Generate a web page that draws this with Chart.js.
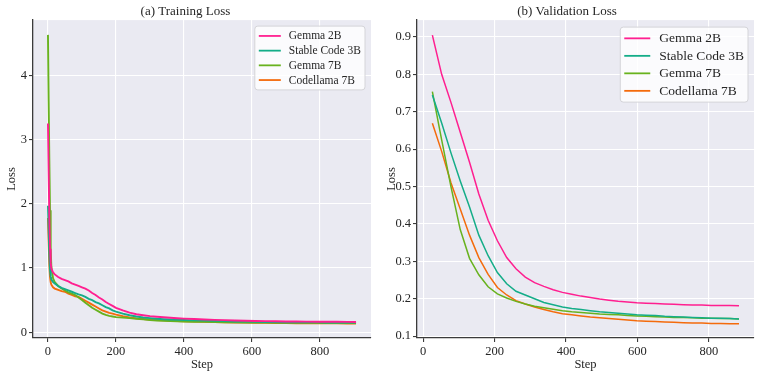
<!DOCTYPE html>
<html>
<head>
<meta charset="utf-8">
<script src="https://cdn.jsdelivr.net/npm/chart.js@4.4.1/dist/chart.umd.min.js"></script>
<style>
  html, body { margin: 0; padding: 0; background: #ffffff; }
  #wrap { width: 761px; height: 377px; display: flex; }
  canvas { display: block; }
</style>
</head>
<body>
<div id="wrap">
  <canvas id="trainChart" width="380" height="377"></canvas>
  <canvas id="valChart" width="381" height="377"></canvas>
</div>
<script>
// Series names and colours
const seriesNames = ['Gemma 2B', 'Stable Code 3B', 'Gemma 7B', 'Codellama 7B'];
const seriesColors = ['#ff1f90', '#14ad88', '#68b21e', '#f46b0c'];

// Training loss
const trainSteps = [0, 2, 4, 6, 8, 10, 15, 20, 30, 40, 50, 60, 70, 80, 90, 100, 110, 120, 130, 140,
    150, 160, 170, 180, 190, 200, 220, 240, 260, 280, 300, 320, 340, 360, 380, 400, 430, 460, 490,
    520, 550, 580, 610, 640, 670, 700, 730, 760, 790, 820, 850, 880, 906];
const trainGemma2b = [3.25, 2.5, 1.8, 1.3, 1.08, 0.99, 0.93, 0.9, 0.86, 0.83, 0.81, 0.79, 0.76, 0.74,
    0.72, 0.70, 0.68, 0.65, 0.61, 0.58, 0.54, 0.51, 0.47, 0.44, 0.41, 0.38, 0.34, 0.305, 0.28, 0.265,
    0.25, 0.24, 0.232, 0.225, 0.218, 0.212, 0.205, 0.198, 0.193, 0.188, 0.183, 0.178, 0.175, 0.172,
    0.17, 0.168, 0.166, 0.165, 0.164, 0.163, 0.162, 0.161, 0.16];
const trainStable3b = [1.97, 1.6, 1.2, 0.97, 0.87, 0.82, 0.78, 0.76, 0.72, 0.69, 0.67, 0.65, 0.63,
    0.61, 0.59, 0.575, 0.55, 0.52, 0.5, 0.47, 0.45, 0.42, 0.39, 0.37, 0.34, 0.32, 0.29, 0.265, 0.245,
    0.23, 0.22, 0.21, 0.203, 0.198, 0.193, 0.19, 0.185, 0.18, 0.176, 0.172, 0.168, 0.165, 0.162, 0.16,
    0.158, 0.156, 0.155, 0.154, 0.153, 0.152, 0.151, 0.15, 0.15];
const trainGemma7b = [4.63, 3.6, 2.7, 1.9, 1.3, 1.02, 0.84, 0.78, 0.72, 0.68, 0.65, 0.62, 0.6, 0.58,
    0.54, 0.5, 0.46, 0.42, 0.38, 0.35, 0.32, 0.29, 0.27, 0.255, 0.245, 0.235, 0.23, 0.22, 0.21, 0.2,
    0.19, 0.183, 0.178, 0.174, 0.17, 0.167, 0.164, 0.161, 0.158, 0.156, 0.154, 0.152, 0.15, 0.149,
    0.148, 0.147, 0.146, 0.145, 0.145, 0.144, 0.144, 0.143, 0.143];
const trainCodellama7b = [1.78, 1.4, 1.05, 0.86, 0.78, 0.74, 0.7, 0.68, 0.66, 0.64, 0.63, 0.6, 0.58,
    0.56, 0.55, 0.52, 0.49, 0.46, 0.43, 0.4, 0.37, 0.34, 0.32, 0.3, 0.29, 0.275, 0.25, 0.23, 0.215,
    0.205, 0.197, 0.19, 0.184, 0.179, 0.175, 0.171, 0.166, 0.162, 0.158, 0.155, 0.152, 0.149, 0.147,
    0.145, 0.143, 0.142, 0.14, 0.139, 0.138, 0.137, 0.137, 0.136, 0.136];

// Validation loss (evaluated every 26 steps)
const valSteps = [26, 52, 78, 104, 130, 156, 182, 208, 234, 260, 286, 312, 338, 364, 390, 416, 442,
    468, 494, 520, 546, 572, 598, 624, 650, 676, 702, 728, 754, 780, 806, 832, 858, 884];
const valGemma2b = [0.905, 0.80, 0.725, 0.645, 0.565, 0.48, 0.41, 0.355, 0.31, 0.28, 0.258, 0.243,
    0.233, 0.224, 0.217, 0.212, 0.207, 0.203, 0.199, 0.196, 0.193, 0.191, 0.189, 0.188, 0.187, 0.186,
    0.185, 0.184, 0.183, 0.183, 0.182, 0.182, 0.182, 0.181];
const valStable3b = [0.745, 0.67, 0.59, 0.515, 0.445, 0.37, 0.315, 0.27, 0.24, 0.22, 0.21, 0.20,
    0.19, 0.184, 0.178, 0.174, 0.171, 0.168, 0.165, 0.163, 0.161, 0.159, 0.157, 0.156, 0.155, 0.153,
    0.152, 0.151, 0.150, 0.149, 0.148, 0.148, 0.147, 0.146];
const valGemma7b = [0.754, 0.625, 0.50, 0.385, 0.308, 0.264, 0.232, 0.213, 0.202, 0.193, 0.186, 0.18,
    0.176, 0.172, 0.168, 0.165, 0.163, 0.161, 0.159, 0.158, 0.157, 0.155, 0.154, 0.153, 0.152, 0.151,
    0.150, 0.150, 0.149, 0.148, 0.148, 0.147, 0.147, 0.146];
const valCodellama7b = [0.669, 0.594, 0.51, 0.44, 0.37, 0.31, 0.265, 0.23, 0.21, 0.195, 0.186, 0.178,
    0.171, 0.165, 0.160, 0.157, 0.154, 0.151, 0.149, 0.147, 0.145, 0.143, 0.141, 0.140, 0.139, 0.138,
    0.137, 0.136, 0.135, 0.135, 0.134, 0.134, 0.133, 0.133];

const trainTicksX = [0, 200, 400, 600, 800];
const trainTicksY = [0, 1, 2, 3, 4];
const valTicksX = [0, 200, 400, 600, 800];
const valTicksY = [0.1, 0.2, 0.3, 0.4, 0.5, 0.6, 0.7, 0.8, 0.9];

const FONT = "'Liberation Serif', 'DejaVu Serif', serif";
const AXIS_COLOR = '#3b3b3b';

const zip = (xs, ys) => xs.map((x, i) => ({ x, y: ys[i] }));

/**
 * Grey plot background, drawn behind the grid
 */
const plotBackground = {
    id: 'plotBackground',
    beforeDraw(chart) {
        const { ctx, chartArea: a } = chart;
        ctx.save();
        ctx.fillStyle = '#eaeaf2';
        ctx.fillRect(a.left, a.top, a.right - a.left, a.bottom - a.top);
        ctx.restore();
    }
};

/**
 * Matplotlib-style legend box in the upper right corner
 */
const boxLegend = {
    id: 'boxLegend',
    afterDraw(chart, args, opts) {
        const { ctx, chartArea: a } = chart;
        const sets = chart.data.datasets;
        ctx.save();
        ctx.font = `${opts.fontSize}px ${FONT}`;
        const textW = Math.max(...sets.map(d => ctx.measureText(d.label).width));
        const w = opts.pad + opts.lineLen + opts.gap + textW + opts.pad;
        const h = opts.rowH * sets.length + opts.padY * 2;
        const x = a.right - opts.right - w;
        const y = a.top + opts.top;
        ctx.beginPath();
        ctx.roundRect(x, y, w, h, 3);
        ctx.fillStyle = 'rgba(255,255,255,0.8)';
        ctx.fill();
        ctx.strokeStyle = '#d4d4d8';
        ctx.lineWidth = 1;
        ctx.stroke();
        ctx.textBaseline = 'middle';
        sets.forEach((d, i) => {
            const cy = y + opts.padY + opts.rowH * (i + 0.5);
            ctx.beginPath();
            ctx.moveTo(x + opts.pad, cy);
            ctx.lineTo(x + opts.pad + opts.lineLen, cy);
            ctx.strokeStyle = d.borderColor;
            ctx.lineWidth = 1.8;
            ctx.stroke();
            ctx.fillStyle = '#262626';
            ctx.fillText(d.label, x + opts.pad + opts.lineLen + opts.gap, cy + 0.5);
        });
        ctx.restore();
    }
};

function makeChart(id, cfg) {
    const datasets = cfg.series.map((s, i) => ({
        label: seriesNames[i],
        data: zip(cfg.steps, s),
        borderColor: seriesColors[i],
        backgroundColor: seriesColors[i],
        borderWidth: cfg.lineWidth,
        pointRadius: 0,
        tension: 0,
    }));

    const axis = (min, max, ticks, fmt, title, side) => ({
        type: 'linear',
        min, max,
        afterBuildTicks: (s) => { s.ticks = ticks.map(v => ({ value: v })); },
        afterFit: (s) => { if (side === 'y') s.width = cfg.yWidth; else s.height = cfg.xHeight; },
        grid: { color: '#ffffff', lineWidth: 1.1, tickColor: AXIS_COLOR, tickLength: 4, drawTicks: true },
        border: { display: true, color: AXIS_COLOR, width: 1.3 },
        ticks: {
            color: '#262626',
            font: { family: FONT, size: 12.5 },
            padding: 2,
            maxRotation: 0,
            autoSkip: false,
            callback: fmt,
        },
        title: {
            display: true,
            text: title,
            color: '#262626',
            font: { family: FONT, size: 12.5 },
            padding: side === 'y' ? { top: 4, bottom: 2 } : { top: 1, bottom: 5 },
        },
    });

    return new Chart(document.getElementById(id), {
        type: 'line',
        data: { datasets },
        options: {
            responsive: false,
            animation: false,
            layout: { padding: { left: 0, right: cfg.padRight, top: 0, bottom: 0 } },
            plugins: {
                legend: { display: false },
                tooltip: { enabled: false },
                title: {
                    display: true,
                    text: cfg.title,
                    color: '#262626',
                    font: { family: FONT, size: 13, weight: 'normal' },
                    padding: { top: 4, bottom: 0.5 },
                },
                boxLegend: cfg.legend,
            },
            scales: {
                x: axis(cfg.xMin, cfg.xMax, cfg.xTicks, (v) => String(v), 'Step', 'x'),
                y: axis(cfg.yMin, cfg.yMax, cfg.yTicks, cfg.yFmt, 'Loss', 'y'),
            },
        },
        plugins: [plotBackground, boxLegend],
    });
}

makeChart('trainChart', {
    title: '(a) Training Loss',
    steps: trainSteps,
    series: [trainGemma2b, trainStable3b, trainGemma7b, trainCodellama7b],
    lineWidth: 1.9,
    xMin: -44, xMax: 950, xTicks: trainTicksX,
    yMin: -0.09, yMax: 4.86, yTicks: trainTicksY, yFmt: (v) => String(v),
    yWidth: 33, xHeight: 39, padRight: 9,
    legend: { fontSize: 11.5, rowH: 14.7, padY: 2.5, pad: 4, lineLen: 22, gap: 8, right: 6, top: 6 },
});

makeChart('valChart', {
    title: '(b) Validation Loss',
    steps: valSteps,
    series: [valGemma2b, valStable3b, valGemma7b, valCodellama7b],
    lineWidth: 1.5,
    xMin: -17, xMax: 926, xTicks: valTicksX,
    yMin: 0.095, yMax: 0.945, yTicks: valTicksY, yFmt: (v) => v.toFixed(1),
    yWidth: 37, xHeight: 39, padRight: 7,
    legend: { fontSize: 13.5, rowH: 17.5, padY: 2.5, pad: 4, lineLen: 26, gap: 9, right: 6, top: 7 },
});
</script>
</body>
</html>
